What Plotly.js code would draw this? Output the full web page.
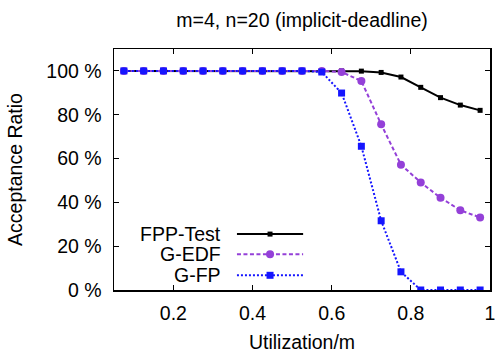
<!DOCTYPE html>
<html>
<head>
<meta charset="utf-8">
<script src="https://cdn.plot.ly/plotly-3.0.1.min.js"></script>
<style>html,body{margin:0;padding:0;background:#fff;}#chart{width:495px;height:353px;}</style>
</head>
<body>
<div id="chart"></div>
<script>
const utilization = [0.075,0.125,0.175,0.225,0.275,0.325,0.375,0.425,0.475,0.525,0.575,0.625,0.675,0.725,0.775,0.825,0.875,0.925,0.975];
const fppTest = [100,100,100,100,100,100,100,100,100,100,100,100,99.9,99.3,97.2,92.5,87.8,84.4,82.0];
const gEdf    = [100,100,100,100,100,100,100,100,100,100,100,99.5,95.4,75.6,57.2,49.1,42.1,36.4,33.1];
const gFp     = [100,100,100,100,100,100,100,100,100,100,99.5,89.9,65.6,31.6,8.3,0,0,0,0];
const seriesNames = ['FPP-Test','G-EDF','G-FP'];
const xTicks = [0.2,0.4,0.6,0.8,1];
const yTicks = [0,20,40,60,80,100];

const colors = ['#000000','#9440D8','#1515FF'];
const FONT = 'Liberation Sans, Arial, sans-serif';
const FS = 19.5;

const traces = [
  {x: utilization, y: fppTest, name: seriesNames[0], mode:'lines+markers',
   line:{color:colors[0], width:2}, marker:{symbol:'square', size:5, color:colors[0]}},
  {x: utilization, y: gEdf, name: seriesNames[1], mode:'lines+markers',
   line:{color:colors[1], width:2, dash:'4px,2.5px'}, marker:{symbol:'circle', size:8, color:colors[1]}},
  {x: utilization, y: gFp, name: seriesNames[2], mode:'lines+markers',
   line:{color:colors[2], width:2, dash:'2px,2px'}, marker:{symbol:'square', size:7, color:colors[2]}}
];

// custom legend (text right, sample on the right) in paper coordinates
const legRows = [0.232, 0.148, 0.061];
const legTextX = 0.290, legL0 = 0.327, legL1 = 0.503, legM = 0.415;
const annotations = seriesNames.map((n,i)=>({
  xref:'paper', yref:'paper', x:legTextX, y:legRows[i], xanchor:'right', yanchor:'middle',
  text:n, showarrow:false, font:{family:FONT, size:FS, color:'#000'}
}));
const shapes = [];
const dashes = ['solid','4px,2.5px','2px,2px'];
const mk = [{t:'rect',s:5},{t:'circle',s:8},{t:'rect',s:7}];
seriesNames.forEach((n,i)=>{
  shapes.push({type:'line', xref:'paper', yref:'paper', x0:legL0, x1:legL1, y0:legRows[i], y1:legRows[i],
    line:{color:colors[i], width:2, dash:dashes[i]}});
  const h = mk[i].s/2;
  shapes.push({type:mk[i].t, xref:'paper', yref:'paper', xsizemode:'pixel', ysizemode:'pixel',
    xanchor:legM, yanchor:legRows[i], x0:-h, x1:h, y0:-h, y1:h,
    fillcolor:colors[i], line:{color:colors[i], width:0}});
});

const layout = {
  width:495, height:353,
  margin:{l:114, r:5, t:49, b:63},
  paper_bgcolor:'#fff', plot_bgcolor:'#fff',
  showlegend:false,
  font:{family:FONT, size:FS, color:'#000'},
  title:{text:'m=4, n=20 (implicit-deadline)', font:{family:FONT, size:FS, color:'#000'},
    x:0.5, xref:'paper', xanchor:'center', y:1-20/353, yanchor:'middle'},
  xaxis:{range:[0.05,1.0], tickvals:xTicks, ticktext:xTicks.map(v=>String(v)),
    ticks:'inside', ticklen:5, tickwidth:1, tickcolor:'#000', mirror:'ticks',
    showline:true, linecolor:'#000', linewidth:1.5, showgrid:false, zeroline:false,
    ticklabeloverflow:'allow', ticklabelstandoff:5,
    tickfont:{family:FONT, size:FS, color:'#000'},
    title:{text:'Utilization/m', font:{family:FONT, size:FS, color:'#000'}, standoff:16}},
  yaxis:{range:[0,110], tickvals:yTicks, ticktext:yTicks.map(v=>v+' %'),
    ticks:'inside', ticklen:5, tickwidth:1, tickcolor:'#000', mirror:'ticks',
    showline:true, linecolor:'#000', linewidth:1.5, showgrid:false, zeroline:false,
    ticklabeloverflow:'allow', ticklabelstandoff:7,
    tickfont:{family:FONT, size:FS, color:'#000'},
    title:{text:'Acceptance Ratio', font:{family:FONT, size:FS, color:'#000'}, standoff:18}},
  annotations: annotations,
  shapes: shapes
};

Plotly.newPlot('chart', traces, layout, {staticPlot:true, displayModeBar:false});
</script>
</body>
</html>
